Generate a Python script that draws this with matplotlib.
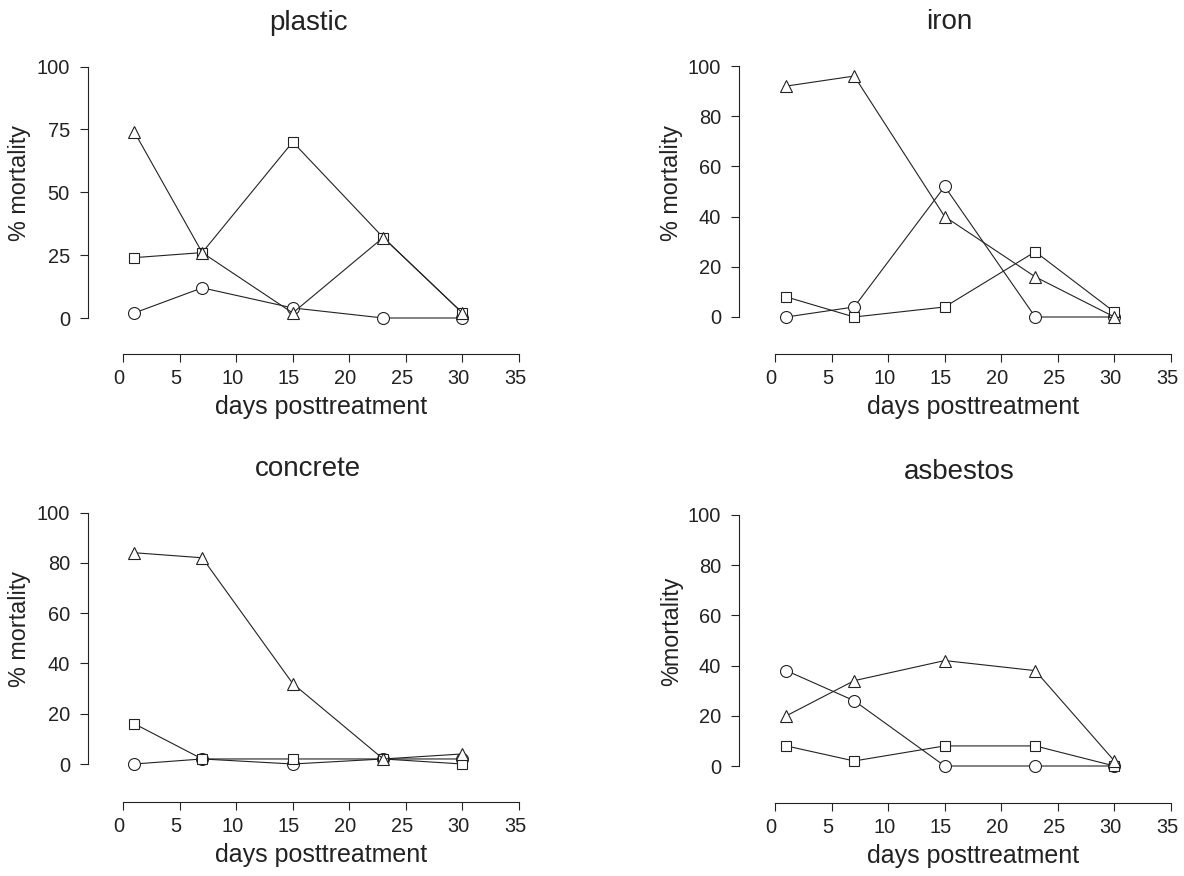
import matplotlib
matplotlib.use("Agg")
import matplotlib.pyplot as plt
from matplotlib.transforms import ScaledTranslation

plt.rcParams['font.family'] = ['Liberation Sans', 'DejaVu Sans']

days = [1, 7, 15, 23, 30]

panels = ['plastic', 'iron', 'concrete', 'asbestos']
ylabels = ['% mortality', '% mortality', '% mortality', '%mortality']
yticks_by_panel = [[0, 25, 50, 75, 100], [0, 20, 40, 60, 80, 100],
                   [0, 20, 40, 60, 80, 100], [0, 20, 40, 60, 80, 100]]
xticks = [0, 5, 10, 15, 20, 25, 30, 35]

# % mortality per panel, one list per marker series
circle_vals = [
    [2, 12, 4, 0, 0],
    [0, 4, 52, 0, 0],
    [0, 2, 0, 2, 2],
    [38, 26, 0, 0, 0],
]
square_vals = [
    [24, 26, 70, 32, 2],
    [8, 0, 4, 26, 2],
    [16, 2, 2, 2, 0],
    [8, 2, 8, 8, 0],
]
triangle_vals = [
    [74, 26, 2, 32, 2],
    [92, 96, 40, 16, 0],
    [84, 82, 32, 2, 4],
    [20, 34, 42, 38, 2],
]

W, H = 1184, 876
fig = plt.figure(figsize=(W / 100, H / 100), dpi=100)

# pixel box of the data range 0..35 x 0..100: (left, top, right, bottom)
boxes = [(123, 66.5, 519, 318), (775, 66, 1171, 317),
         (123, 512.5, 519, 764), (775, 515, 1171, 766)]
# how far the detached axis lines sit from the data box (pixels)
left_off = [35, 36, 35, 36]
bottom_off = [36, 37, 38, 37]
# title centres (pixels)
title_xy = [(309, 23), (949, 22), (308, 469), (959, 472)]

ink = '#222222'
px = 0.72  # points per pixel at 100 dpi
shift_left = ScaledTranslation(-4 / 100, 0, fig.dpi_scale_trans)
for i, name in enumerate(panels):
    l, t, r, b = boxes[i]
    ax = fig.add_axes([l / W, (H - b) / H, (r - l) / W, (b - t) / H])
    ax.set_xlim(0, 35)
    ax.set_ylim(0, 100)
    for vals, m, ms in [(circle_vals[i], 'o', 8.6), (square_vals[i], 's', 7.2),
                        (triangle_vals[i], '^', 9.2)]:
        ax.plot(days, vals, color=ink, lw=0.8, marker=m, ms=ms,
                mfc='white', mec=ink, mew=0.8, clip_on=False)

    for s in ['top', 'right']:
        ax.spines[s].set_visible(False)
    ax.spines['left'].set_position(('outward', left_off[i] * px))
    ax.spines['bottom'].set_position(('outward', bottom_off[i] * px))
    ax.spines['left'].set_bounds(0, 100)
    ax.spines['bottom'].set_bounds(0, 35)
    for s in ['left', 'bottom']:
        ax.spines[s].set_color(ink)
        ax.spines[s].set_linewidth(0.8)
    ax.set_xticks(xticks)
    ax.set_yticks(yticks_by_panel[i])
    ax.tick_params(direction='out', length=6, width=0.8, color=ink,
                   labelsize=14.4, labelcolor=ink)
    ax.tick_params(axis='y', pad=7)
    ax.tick_params(axis='x', pad=5)
    for lab in ax.get_xticklabels():
        lab.set_transform(lab.get_transform() + shift_left)
    ax.set_xlabel('days posttreatment', fontsize=18, color=ink, labelpad=5)
    ax.set_ylabel(ylabels[i], fontsize=16.8, color=ink)
    ax.yaxis.set_label_coords(-0.232, 0.535)
    fig.text(title_xy[i][0] / W, 1 - title_xy[i][1] / H, name, fontsize=20,
             color=ink, ha='center', va='center')

fig.savefig('out.png', dpi=100)
